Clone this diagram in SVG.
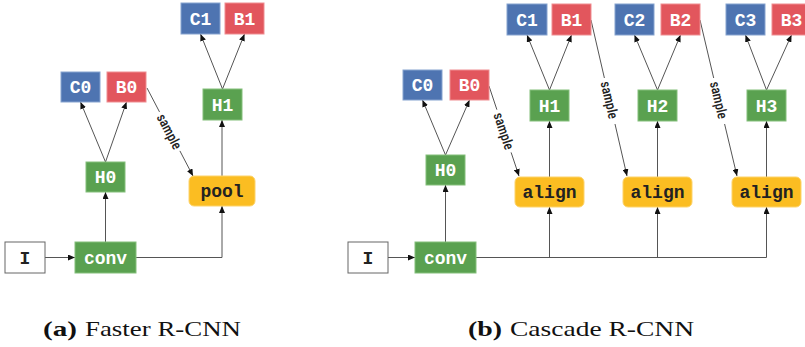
<svg xmlns="http://www.w3.org/2000/svg" width="805" height="347" viewBox="0 0 805 347">
<style>
.b{fill:#4e74b1;stroke:#86a3cf;stroke-width:1}
.r{fill:#e2565d;stroke:#ef8d91;stroke-width:1}
.g{fill:#5aa150;stroke:#84bf7b;stroke-width:1}
.y{fill:#fbbd22;stroke:#fdd36a;stroke-width:1}
.w{fill:#ffffff;stroke:#666666;stroke-width:1}
.t{font-family:"Liberation Mono","Courier New",monospace;font-weight:bold;font-size:18px;text-anchor:middle;fill:#ffffff}
.k{fill:#222222}
.c{fill:none;stroke:#555555;stroke-width:1}
.s{font-family:"Roboto Condensed","Liberation Sans Narrow",Roboto,sans-serif;font-size:14px;font-weight:500;fill:#222222;text-anchor:middle;dominant-baseline:central}
.cap{font-family:"Liberation Serif","Times New Roman",serif;font-size:22px;fill:#111111}
</style>
<defs>
<marker id="ah" markerUnits="userSpaceOnUse" markerWidth="7" markerHeight="6" refX="7" refY="3" orient="auto">
<path d="M0,0 L7,3 L0,6 z" fill="#111111"/>
</marker>
</defs>

<g id="connectors">
<!-- left panel -->
<line class="c" x1="45" y1="257.5" x2="75" y2="257.5" marker-end="url(#ah)"/>
<line class="c" x1="105.5" y1="242" x2="105.5" y2="192" marker-end="url(#ah)"/>
<polyline class="c" points="136,257.5 222,257.5 222,206" marker-end="url(#ah)"/>
<line class="c" x1="105.5" y1="162" x2="80.5" y2="102" marker-end="url(#ah)"/>
<line class="c" x1="105.5" y1="162" x2="126.5" y2="102" marker-end="url(#ah)"/>
<line class="c" x1="222" y1="176" x2="222" y2="120" marker-end="url(#ah)"/>
<line class="c" x1="222.5" y1="89" x2="200.5" y2="34" marker-end="url(#ah)"/>
<line class="c" x1="222.5" y1="89" x2="244.5" y2="34" marker-end="url(#ah)"/>
<line class="c" x1="147" y1="88" x2="159.5" y2="111.9"/>
<line class="c" x1="179.9" y1="150.9" x2="193" y2="176" marker-end="url(#ah)"/>
<text class="s" transform="translate(169.6,131.4) rotate(62.4)" textLength="38" lengthAdjust="spacingAndGlyphs">sample</text>

<!-- right panel -->
<line class="c" x1="388" y1="257.5" x2="415" y2="257.5" marker-end="url(#ah)"/>
<line class="c" x1="445.5" y1="242" x2="445.5" y2="185" marker-end="url(#ah)"/>
<polyline class="c" points="476,257.5 766.5,257.5 766.5,207" marker-end="url(#ah)"/>
<line class="c" x1="549.5" y1="257.5" x2="549.5" y2="207" marker-end="url(#ah)"/>
<line class="c" x1="657.5" y1="257.5" x2="657.5" y2="207" marker-end="url(#ah)"/>
<line class="c" x1="445.5" y1="155" x2="422.5" y2="100" marker-end="url(#ah)"/>
<line class="c" x1="445.5" y1="155" x2="469.5" y2="100" marker-end="url(#ah)"/>
<line class="c" x1="549.5" y1="177" x2="549.5" y2="121" marker-end="url(#ah)"/>
<line class="c" x1="657.5" y1="177" x2="657.5" y2="121" marker-end="url(#ah)"/>
<line class="c" x1="766.5" y1="177" x2="766.5" y2="121" marker-end="url(#ah)"/>
<line class="c" x1="549.5" y1="90" x2="527" y2="35" marker-end="url(#ah)"/>
<line class="c" x1="549.5" y1="90" x2="571.5" y2="35" marker-end="url(#ah)"/>
<line class="c" x1="657.5" y1="90" x2="634.5" y2="35" marker-end="url(#ah)"/>
<line class="c" x1="657.5" y1="90" x2="680.5" y2="35" marker-end="url(#ah)"/>
<line class="c" x1="766.5" y1="90" x2="745.5" y2="35" marker-end="url(#ah)"/>
<line class="c" x1="766.5" y1="90" x2="791.5" y2="35" marker-end="url(#ah)"/>
<!-- sample B0 -> align1 -->
<line class="c" x1="489" y1="86" x2="496.9" y2="109.7"/>
<line class="c" x1="511.1" y1="152.4" x2="519" y2="176" marker-end="url(#ah)"/>
<text class="s" transform="translate(504,131) rotate(71.6)" textLength="38" lengthAdjust="spacingAndGlyphs">sample</text>
<!-- sample B1 -> align2 -->
<line class="c" x1="591" y1="20" x2="604.4" y2="78"/>
<line class="c" x1="615" y1="124" x2="627" y2="176" marker-end="url(#ah)"/>
<text class="s" transform="translate(609.6,100) rotate(77)" textLength="38" lengthAdjust="spacingAndGlyphs">sample</text>
<!-- sample B2 -> align3 -->
<line class="c" x1="700" y1="20" x2="713.7" y2="78"/>
<line class="c" x1="724.6" y1="124" x2="737" y2="176" marker-end="url(#ah)"/>
<text class="s" transform="translate(719,100) rotate(76.7)" textLength="38" lengthAdjust="spacingAndGlyphs">sample</text>
</g>

<!-- left panel nodes -->
<g id="a_I"><rect class="w" x="5" y="242" width="40" height="31"/><text class="t k" x="25" y="263.5">I</text></g>
<g id="a_conv"><rect class="g" x="75" y="242" width="61" height="31"/><text class="t" x="105.5" y="263.5">conv</text></g>
<g id="a_H0"><rect class="g" x="86" y="162" width="39" height="30"/><text class="t" x="105.5" y="183">H0</text></g>
<g id="a_C0"><rect class="b" x="61" y="72" width="39" height="30"/><text class="t" x="80.5" y="93">C0</text></g>
<g id="a_B0"><rect class="r" x="107" y="72" width="39" height="30"/><text class="t" x="126.5" y="93">B0</text></g>
<g id="a_pool"><rect class="y" x="189" y="176" width="66" height="30" rx="5"/><text class="t k" x="222" y="197">pool</text></g>
<g id="a_H1"><rect class="g" x="203" y="89" width="39" height="31"/><text class="t" x="222.5" y="110.5">H1</text></g>
<g id="a_C1"><rect class="b" x="181" y="3" width="39" height="31"/><text class="t" x="200.5" y="24.5">C1</text></g>
<g id="a_B1"><rect class="r" x="225" y="3" width="39" height="31"/><text class="t" x="244.5" y="24.5">B1</text></g>

<!-- right panel nodes -->
<g id="b_I"><rect class="w" x="348" y="242" width="40" height="31"/><text class="t k" x="368" y="263.5">I</text></g>
<g id="b_conv"><rect class="g" x="415" y="242" width="61" height="31"/><text class="t" x="445.5" y="263.5">conv</text></g>
<g id="b_H0"><rect class="g" x="426" y="155" width="39" height="30"/><text class="t" x="445.5" y="176">H0</text></g>
<g id="b_C0"><rect class="b" x="403" y="70" width="39" height="30"/><text class="t" x="422.5" y="91">C0</text></g>
<g id="b_B0"><rect class="r" x="450" y="70" width="39" height="30"/><text class="t" x="469.5" y="91">B0</text></g>
<g id="b_align1"><rect class="y" x="515" y="177" width="69" height="30" rx="5"/><text class="t k" x="549.5" y="198">align</text></g>
<g id="b_H1"><rect class="g" x="530" y="90" width="39" height="31"/><text class="t" x="549.5" y="111.5">H1</text></g>
<g id="b_C1"><rect class="b" x="507" y="4" width="40" height="31"/><text class="t" x="527" y="25.5">C1</text></g>
<g id="b_B1"><rect class="r" x="552" y="4" width="39" height="31"/><text class="t" x="571.5" y="25.5">B1</text></g>
<g id="b_align2"><rect class="y" x="623" y="177" width="69" height="30" rx="5"/><text class="t k" x="657.5" y="198">align</text></g>
<g id="b_H2"><rect class="g" x="638" y="90" width="39" height="31"/><text class="t" x="657.5" y="111.5">H2</text></g>
<g id="b_C2"><rect class="b" x="615" y="4" width="39" height="31"/><text class="t" x="634.5" y="25.5">C2</text></g>
<g id="b_B2"><rect class="r" x="661" y="4" width="39" height="31"/><text class="t" x="680.5" y="25.5">B2</text></g>
<g id="b_align3"><rect class="y" x="732" y="177" width="69" height="30" rx="5"/><text class="t k" x="766.5" y="198">align</text></g>
<g id="b_H3"><rect class="g" x="747" y="90" width="39" height="31"/><text class="t" x="766.5" y="111.5">H3</text></g>
<g id="b_C3"><rect class="b" x="726" y="4" width="39" height="31"/><text class="t" x="745.5" y="25.5">C3</text></g>
<g id="b_B3"><rect class="r" x="772" y="4" width="39" height="31"/><text class="t" x="791.5" y="25.5">B3</text></g>

<!-- captions -->
<g id="captions">
<text class="cap" x="43" y="335.5" font-weight="bold" textLength="34" lengthAdjust="spacingAndGlyphs">(a)</text>
<text class="cap" x="85" y="335.5" textLength="156" lengthAdjust="spacingAndGlyphs">Faster R-CNN</text>
<text class="cap" x="468" y="335.5" font-weight="bold" textLength="34" lengthAdjust="spacingAndGlyphs">(b)</text>
<text class="cap" x="510" y="335.5" textLength="184" lengthAdjust="spacingAndGlyphs">Cascade R-CNN</text>
</g>
</svg>
